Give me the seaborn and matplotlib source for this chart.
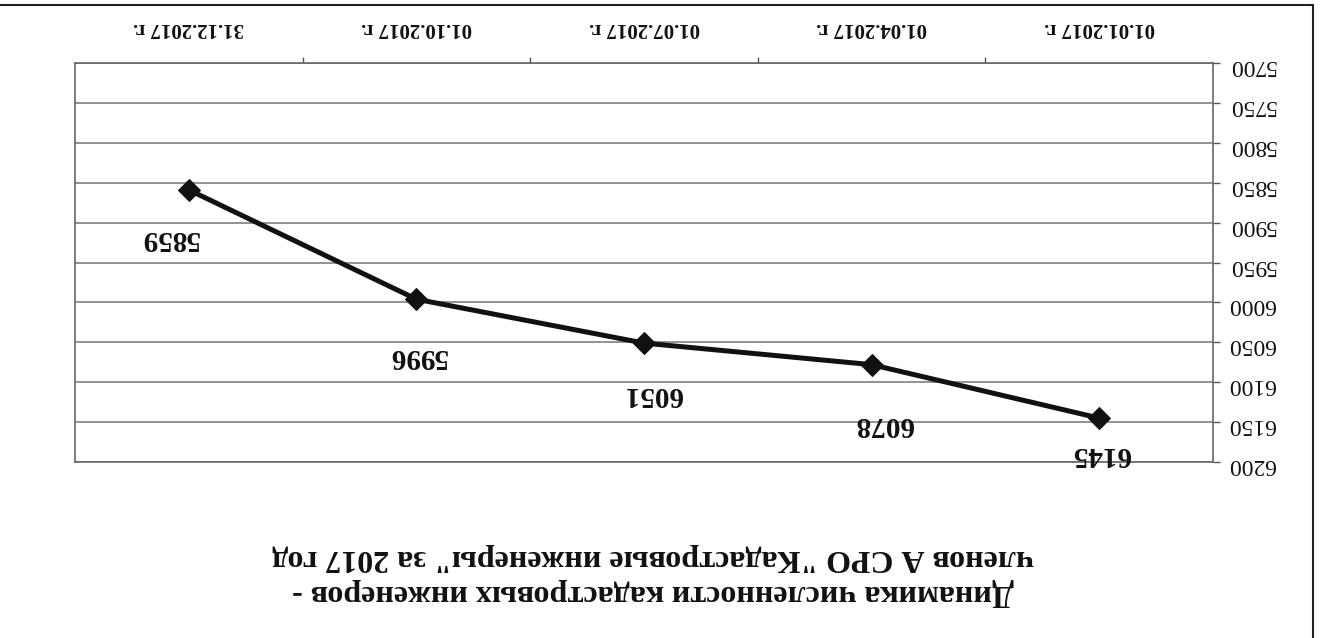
import matplotlib
matplotlib.use("Agg")
import matplotlib.pyplot as plt
import seaborn as sns
import pandas as pd
from matplotlib.lines import Line2D

# ---- data ----
dates = ["01.01.2017 г.", "01.04.2017 г.", "01.07.2017 г.", "01.10.2017 г.", "31.12.2017 г."]
members = [6145, 6078, 6051, 5996, 5859]
y_ticks = [5700, 5750, 5800, 5850, 5900, 5950, 6000, 6050, 6100, 6150, 6200]
title_lines = ["Динамика численности кадастровых инженеров -",
               "членов А СРО \"Кадастровые инженеры\" за 2017 год"]

# label offsets (points) as placed in the reference
label_offsets = [(1, -26), (9, -43), (6, -37), (1, -41), (-14, -35)]

sns.set_theme(style="white")
plt.rcParams["font.family"] = ["Liberation Serif", "DejaVu Serif"]

W, H = 1327, 638
fig = plt.figure(figsize=(W / 100, H / 100), dpi=100)
fig.patch.set_facecolor("white")
ax = fig.add_axes([75 / W, 1 - 462 / H, (1213 - 75) / W, (462 - 63) / H])

df = pd.DataFrame({"date": dates, "members": members})
sns.lineplot(data=df, x="date", y="members", ax=ax, sort=False,
             color="#111111", lw=3.6, marker="D", markersize=11,
             markeredgecolor="#111111", markerfacecolor="#111111")

# upside-down layout (reference is rotated 180 degrees)
ax.set_xlim(len(dates) - 0.5, -0.5)
ax.set_ylim(y_ticks[-1], y_ticks[0])
ax.set_xlabel("")
ax.set_ylabel("")

ax.set_yticks(y_ticks)
ax.set_yticklabels([str(v) for v in y_ticks], rotation=180, fontsize=17, color="#111111")
ax.yaxis.tick_right()
ax.yaxis.grid(True, color="#8a8a8a", lw=1.3)
ax.xaxis.grid(False)

ax.xaxis.tick_top()
ax.set_xticks(range(len(dates)))
ax.set_xticklabels(dates, rotation=180, fontsize=15, fontweight="bold", color="#111111")
ax.set_xticks([i + 0.5 for i in range(len(dates) - 1)], minor=True)
ax.tick_params(axis="x", which="major", length=0, pad=18)
ax.tick_params(axis="x", which="minor", length=4, width=1, color="#555555", top=True, bottom=False)
ax.tick_params(axis="y", which="major", length=5, width=1, color="#555555", pad=6, right=True, left=False)

for s in ax.spines.values():
    s.set_color("#666666")
    s.set_linewidth(1.2)

for i, v in enumerate(members):
    ax.annotate(str(v), (i, v), xytext=label_offsets[i], textcoords="offset points",
                ha="center", va="center", rotation=180,
                fontsize=21, fontweight="bold", color="#111111")

fig.text(653 / W, 1 - 575 / H, "\n".join(title_lines), rotation=180,
         ha="center", va="center", fontsize=23, fontweight="bold",
         color="#111111", linespacing=1.3)

# outer chart-area border (top and right edges visible in the scan)
fig.add_artist(Line2D([0, 1313 / W], [1 - 5 / H, 1 - 5 / H], transform=fig.transFigure,
                      color="#222222", lw=1.5))
fig.add_artist(Line2D([1313 / W, 1313 / W], [0, 1 - 5 / H], transform=fig.transFigure,
                      color="#222222", lw=1.5))

fig.savefig("out.png", dpi=100, facecolor="white")
